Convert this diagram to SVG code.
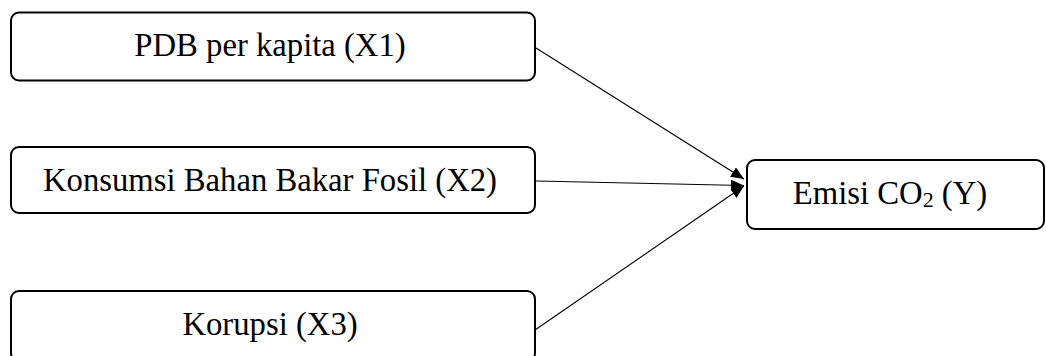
<svg xmlns="http://www.w3.org/2000/svg" width="1046" height="356" viewBox="0 0 1046 356">
  <defs>
    <style>
      .box { fill: #ffffff; stroke: #000000; stroke-width: 2; }
      .label { font-family: "Liberation Serif", "Times New Roman", serif; font-size: 32.7px; fill: #000000; text-anchor: middle; }
      .sub { font-size: 22px; }
      .edge { stroke: #000000; stroke-width: 1.1; fill: none; marker-end: url(#arrow); }
    </style>
    <marker id="arrow" viewBox="0 0 13 11" refX="13" refY="5.5" markerWidth="13" markerHeight="11" markerUnits="userSpaceOnUse" orient="auto">
      <path d="M0,0 L13,5.5 L0,11 Z" fill="#000000"/>
    </marker>
  </defs>

  <g id="connectors">
    <line class="edge" x1="536" y1="48" x2="744" y2="179"/>
    <line class="edge" x1="536" y1="181" x2="744" y2="185.5"/>
    <line class="edge" x1="535" y1="330" x2="744" y2="186"/>
  </g>

  <g id="node-x1">
    <rect class="box" x="11" y="12.5" width="524" height="68" rx="8"/>
    <text class="label" x="270" y="56">PDB per kapita (X1)</text>
  </g>

  <g id="node-x2">
    <rect class="box" x="11" y="147" width="524" height="66" rx="8"/>
    <text class="label" x="270" y="191">Konsumsi Bahan Bakar Fosil (X2)</text>
  </g>

  <g id="node-x3">
    <rect class="box" x="11" y="291" width="524" height="70" rx="8"/>
    <text class="label" x="270" y="335">Korupsi (X3)</text>
  </g>

  <g id="node-y">
    <rect class="box" x="747" y="160" width="297" height="69" rx="8"/>
    <text class="label" x="890" y="204">Emisi CO<tspan class="sub" dy="3">2</tspan><tspan dy="-3"> (Y)</tspan></text>
  </g>
</svg>
